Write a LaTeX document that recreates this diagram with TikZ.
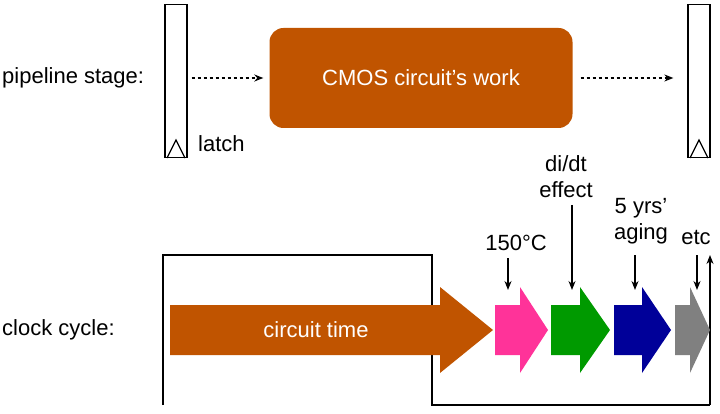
\documentclass[tikz,border=0pt]{standalone}
\usepackage{fontspec}
\setmainfont{Liberation Sans}
\usetikzlibrary{arrows.meta}
\definecolor{org}{HTML}{C05400}
\definecolor{pnk}{HTML}{FF3399}
\definecolor{grn}{HTML}{009A00}
\definecolor{blu}{HTML}{000099}
\definecolor{gry}{HTML}{808080}
\newcommand\myfat[4]{\fill[#4] (#1,305) -- (#3,305) -- (#3,287) -- (#2,330) -- (#3,373) -- (#3,355) -- (#1,355) -- cycle;}
\begin{document}
\begin{tikzpicture}[x=1pt,y=-1pt,
 lbl/.style={font=\fontsize{22}{26}\selectfont,inner sep=0pt},
 latchbox/.style={draw,line width=1.3pt,minimum width=22pt,minimum height=153pt,inner sep=0pt},
 darr/.style={-{Stealth[length=9pt,width=7pt]},dash pattern=on 3pt off 3pt,line width=1.5pt},
 sarr/.style={-{Stealth[length=9pt,width=7pt]},line width=1.3pt}]
\useasboundingbox (0,0) rectangle (720,414);
\node[lbl,anchor=west] (ps) at (2,78) {pipeline stage:};
\node[latchbox] (l1) at (176,81) {};
\draw[line width=1.2pt] (167,158) -- (176,140) -- (185,158);
\node[lbl,anchor=west] (lt) at (198,144) {latch};
\node[fill=org,rounded corners=14pt,minimum width=303pt,minimum height=100pt,text=white,font=\fontsize{22}{26}\selectfont] (cmos) at (421,78) {CMOS circuit’s work};
\node[latchbox] (l2) at (699,81) {};
\draw[line width=1.2pt] (690,158) -- (699,140) -- (708,158);
\draw[darr] ([xshift=4pt]l1.east |- cmos.west) -- ([xshift=-6pt]cmos.west);
\draw[darr] ([xshift=8pt]cmos.east) -- ([xshift=-14pt]l2.west |- cmos.east);
\node[lbl,anchor=west] (cc) at (2,330) {clock cycle:};
\coordinate (w5) at (710,255);
\draw[line width=1.3pt] (163,405) -- (163,255) -- (432,255) -- (432,405) -- (710,405);
\draw[sarr] (710,405) -- (w5);
\myfat{170}{493}{440}{org}
\node[text=white,font=\fontsize{22}{26}\selectfont] (ctt) at (316,330) {circuit time};
\myfat{495}{548}{520}{pnk}
\myfat{551}{610}{580}{grn}
\myfat{614}{671}{642}{blu}
\myfat{675}{710}{690}{gry}
\node[lbl] (t1) at (516,243) {150°C};
\node[lbl,align=center] (t2) at (566,177) {di/dt\\effect};
\node[lbl,align=center] (t3) at (641,221) {5 yrs’\\aging};
\node[lbl] (t4) at (696,237) {etc};
\draw[sarr] (508,258) -- (508,290);
\draw[sarr] (572,205) -- (572,290);
\draw[sarr] (635,255) -- (635,290);
\draw[sarr] (697,255) -- (697,290);
\end{tikzpicture}
\end{document}
